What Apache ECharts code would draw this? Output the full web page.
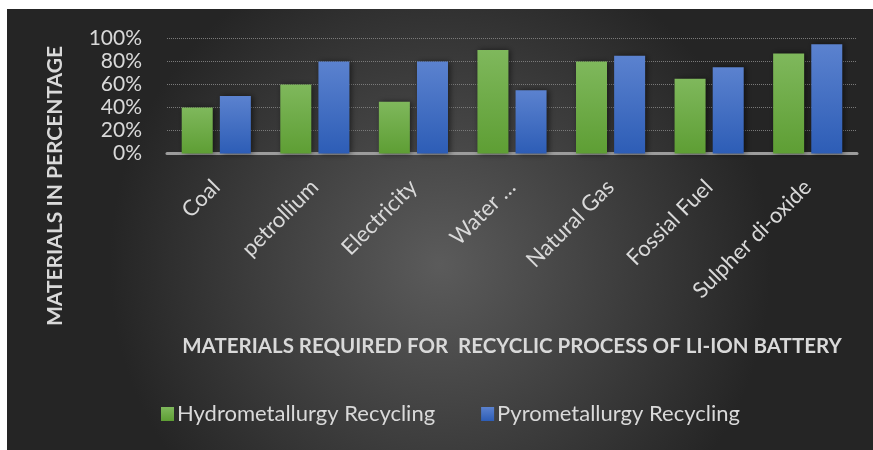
<!DOCTYPE html>
<html>
<head>
<meta charset="utf-8">
<script src="https://cdn.jsdelivr.net/npm/echarts@6/dist/echarts.min.js"></script>
<style>
  html, body { margin: 0; padding: 0; background: #ffffff; }
  #chart { width: 873px; height: 450px; }
</style>
</head>
<body>
<div id="chart"></div>
<script>
// Energy/material inputs per recycling route (percent)
const categories = ['Coal', 'petrollium', 'Electricity', 'Water …', 'Natural Gas', 'Fossial Fuel', 'Sulpher di-oxide'];
const hydroValues = [40, 60, 45, 90, 80, 65, 87];
const pyroValues = [50, 80, 80, 55, 85, 75, 95];
const seriesNames = ['Hydrometallurgy Recycling', 'Pyrometallurgy Recycling'];
const yTicks = [0, 20, 40, 60, 80, 100];
const yTitle = 'MATERIALS IN PERCENTAGE';
const xTitle = 'MATERIALS REQUIRED FOR  RECYCLIC PROCESS OF LI-ION BATTERY';

const FONT = 'Lato';
const TEXT = '#d9d9d9';

const chart = echarts.init(document.getElementById('chart'), null, { renderer: 'canvas' });

function barFill(top, bottom) {
  return new echarts.graphic.LinearGradient(0, 0, 0, 1, [
    { offset: 0, color: top },
    { offset: 1, color: bottom }
  ]);
}

chart.setOption({
  backgroundColor: '#ffffff',
  animation: false,
  graphic: [
    {
      type: 'rect',
      z: -10,
      silent: true,
      shape: { x: 7, y: 9, width: 866, height: 441 },
      style: {
        fill: new echarts.graphic.RadialGradient(0.5, 0.58, 0.75, [
          { offset: 0, color: '#5b5b5b' },
          { offset: 1, color: '#252525' }
        ])
      }
    },
    {
      // vertical value-axis title, centred beside the whole chart body
      type: 'text',
      x: 55,
      y: 186,
      rotation: Math.PI / 2,
      silent: true,
      style: {
        text: yTitle,
        fill: TEXT,
        fontFamily: FONT,
        fontSize: 21,
        fontWeight: 'bold',
        align: 'center',
        verticalAlign: 'middle'
      }
    }
  ],
  grid: {
    left: 167, right: 16, top: 38.5, height: 115,
    containLabel: false,
    outerBoundsMode: 'none'
  },
  legend: {
    bottom: 20,
    left: 156,
    itemWidth: 13,
    itemHeight: 14,
    itemGap: 46,
    icon: 'rect',
    textStyle: { color: TEXT, fontFamily: FONT, fontSize: 22, padding: [0, 0, 0, -2] },
    data: seriesNames
  },
  xAxis: {
    type: 'category',
    data: categories,
    name: xTitle,
    nameLocation: 'middle',
    nameGap: 182,
    nameTextStyle: { color: TEXT, fontFamily: FONT, fontSize: 20.5, fontWeight: 'bold' },
    axisLine: { lineStyle: { color: '#9c9c9c', width: 3 } },
    axisTick: { show: false },
    axisLabel: {
      rotate: 45,
      margin: 30,
      color: TEXT,
      fontFamily: FONT,
      fontSize: 22,
      interval: 0
    }
  },
  yAxis: {
    type: 'value',
    min: 0,
    max: 100,
    interval: 20,
    axisLine: { show: false },
    axisTick: { show: false },
    axisLabel: {
      margin: 25,
      color: TEXT,
      fontFamily: FONT,
      fontSize: 21,
      formatter: v => yTicks.includes(v) ? v + '%' : ''
    },
    splitLine: { lineStyle: { color: '#7a7a7a', type: 'dotted', width: 1 } }
  },
  series: [
    {
      name: seriesNames[0],
      type: 'bar',
      data: hydroValues,
      barWidth: 31,
      barGap: '23%',
      itemStyle: {
        color: barFill('#7fb85c', '#5e9e34'),
        shadowBlur: 6,
        shadowColor: 'rgba(0,0,0,0.55)',
        shadowOffsetX: 2
      }
    },
    {
      name: seriesNames[1],
      type: 'bar',
      data: pyroValues,
      barWidth: 31,
      itemStyle: {
        color: barFill('#5b82cf', '#2d5db6'),
        shadowBlur: 6,
        shadowColor: 'rgba(0,0,0,0.55)',
        shadowOffsetX: 2
      }
    }
  ]
});
</script>
</body>
</html>
